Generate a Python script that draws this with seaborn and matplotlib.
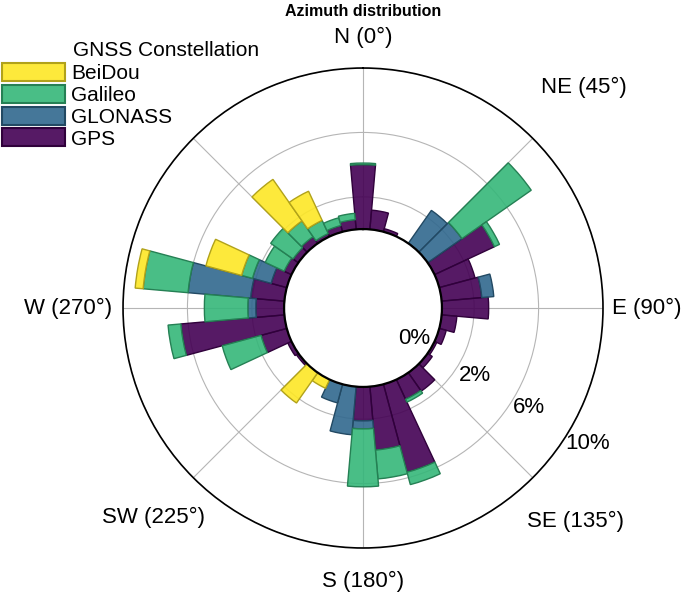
import numpy as np
import seaborn as sns
import matplotlib
matplotlib.use('Agg')
from matplotlib import pyplot as plt
from matplotlib.patches import Patch

# azimuth bins (deg, bin centres) and share of observations per constellation (%)
angles = np.arange(0, 360, 10)
gps = [4.0, 1.2, 0.2, 0.0, 0.0, 0.0, 4.1, 2.3, 2.5, 2.9, 0.95, 0.45,
       0.15, 0.35, 1.4, 1.35, 5.65, 3.95, 2.1, 0.0, 0.0, 0.0, 0.0, 0.15,
       0.25, 1.65, 6.45, 1.75, 2.1, 1.0, 0.5, 0.4, 0.5, 0.2, 0.4, 0.6]
glonass = [0.0, 0.0, 0.0, 0.0, 2.5, 2.6, 0.0, 0.0, 0.75, 0.0, 0.0, 0.0,
           0.0, 0.0, 0.0, 0.0, 0.0, 0.0, 0.5, 3.0, 1.2, 0.0, 0.0, 0.0,
           0.0, 0.0, 0.0, 0.5, 3.9, 1.2, 0.0, 0.0, 0.0, 0.0, 0.0, 0.0]
galileo = [0.1, 0.0, 0.0, 0.0, 0.0, 5.25, 0.35, 0.0, 0.0, 0.0, 0.0, 0.0,
           0.0, 0.0, 0.0, 0.2, 0.8, 1.8, 3.6, 0.0, 0.0, 0.0, 0.0, 0.0,
           0.0, 2.5, 0.8, 2.7, 2.8, 0.7, 1.3, 1.7, 1.2, 0.9, 0.5, 0.4]
beidou = [0.0, 0.0, 0.0, 0.0, 0.0, 0.0, 0.0, 0.0, 0.0, 0.0, 0.0, 0.0,
          0.0, 0.0, 0.0, 0.0, 0.0, 0.0, 0.0, 0.0, 0.0, 0.6, 2.3, 0.0,
          0.0, 0.0, 0.0, 0.0, 0.5, 2.3, 0.0, 0.0, 3.15, 2.0, 0.0, 0.0]

constellations = ['GPS', 'GLONASS', 'Galileo', 'BeiDou']
direction_angles = [0, 45, 90, 135, 180, 225, 270, 315]
direction_labels = ['N (0°)', 'NE (45°)', 'E (90°)', 'SE (135°)',
                    'S (180°)', 'SW (225°)', 'W (270°)', '']
radial_ticks = [0, 2, 6, 10]
radial_labels = ['0%', '2%', '6%', '10%']

sns.set_style('white')
plt.rcParams['font.family'] = ['Liberation Sans', 'DejaVu Sans']
plt.rcParams['text.color'] = 'black'

palette = dict(zip(constellations, plt.cm.viridis(np.linspace(0, 1, 4))))
series = dict(zip(constellations, [gps, glonass, galileo, beidou]))
face_alpha = 0.9

fig = plt.figure(figsize=(6.85, 5.96), dpi=100)
ax = fig.add_axes([0.1796, 0.0805, 0.7007, 0.8054], projection='polar')
ax.set_theta_zero_location('N')
ax.set_theta_direction(-1)
ax.set_rorigin(-4.9)
ax.set_ylim(0, 10)

theta = np.deg2rad(angles)
width = np.deg2rad(10)
bottom = np.zeros(len(angles))
for name in constellations:
    vals = np.array(series[name], dtype=float)
    mask = vals > 0
    col = palette[name]
    face = (*col[:3], face_alpha)
    edge = tuple(np.array(col[:3]) * 0.7)
    ax.bar(theta[mask], vals[mask], width=width, bottom=bottom[mask],
           facecolor=face, edgecolor=edge, linewidth=1.0, zorder=2)
    bottom += vals

# grid
ax.set_xticks(np.deg2rad(direction_angles))
ax.set_xticklabels([])
ax.set_yticks(radial_ticks)
ax.set_yticklabels([])
ax.tick_params(length=0)
ax.grid(True, color='#b5b5b5', linewidth=0.8)
ax.set_axisbelow(True)
ax.spines['polar'].set_color('black')
ax.spines['polar'].set_linewidth(1.2)
ax.spines['inner'].set_color('black')
ax.spines['inner'].set_linewidth(1.6)
ax.spines['inner'].set_zorder(3)

# direction labels
label_r = [11.9, 14.5, 12.7, 13.8, 12.1, 13.5, 13.4, 13.4]
for a, lab, r in zip(direction_angles, direction_labels, label_r):
    ax.text(np.deg2rad(a), r, lab, ha='center', va='center', fontsize=16)

# radial labels
radial_offset = [-1.2, 1.2, 1.1, 1.4]
for t, lab, off in zip(radial_ticks, radial_labels, radial_offset):
    ax.text(np.deg2rad(121), t + off, lab, ha='center', va='center',
            fontsize=16, zorder=4)

# legend
order = ['BeiDou', 'Galileo', 'GLONASS', 'GPS']
handles = [Patch(facecolor=(*palette[n][:3], face_alpha),
                 edgecolor=tuple(np.array(palette[n][:3]) * 0.7),
                 linewidth=1.5) for n in order]
fig.legend(handles, order, loc='upper left', bbox_to_anchor=(0.003, 1 - 63 / 596),
           frameon=False, fontsize=15, handlelength=3.0, handleheight=0.95,
           handletextpad=0.3, labelspacing=0.08, borderpad=0, borderaxespad=0)
fig.text(73 / 685, 1 - 50 / 596, 'GNSS Constellation', ha='left', va='center',
         fontsize=15)

fig.text(363 / 685, 1 - 12 / 596, 'Azimuth distribution', ha='center',
         va='center', fontsize=11.5, fontweight='bold')

fig.savefig('out.png', dpi=100)
